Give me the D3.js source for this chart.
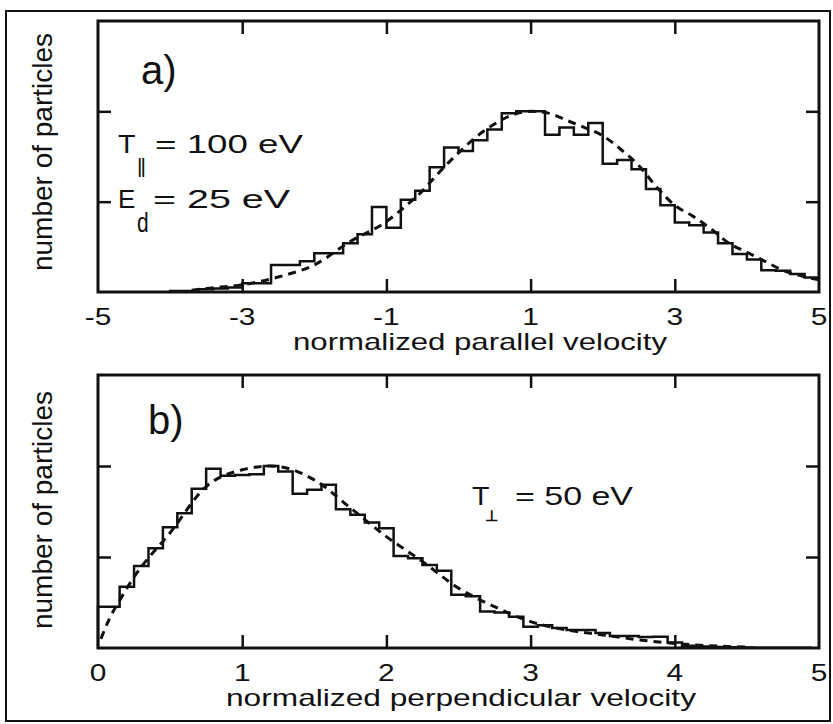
<!DOCTYPE html>
<html>
<head>
<meta charset="utf-8">
<script src="https://cdn.jsdelivr.net/npm/d3@7/dist/d3.min.js"></script>
<style>
  body { margin: 0; background: #fff; }
  svg { display: block; }
  text { font-family: "Liberation Sans", Arial, Helvetica, sans-serif; fill: #111; }
  text.sym { font-family: "DejaVu Sans", "Liberation Sans", sans-serif; stroke: #111; stroke-width: 0.7px; }
</style>
</head>
<body>
<svg id="fig" width="833" height="724"></svg>
<script>
// ---- panel a: parallel velocity distribution ----
const parallelBinStart = -4.0;
const parallelBinWidth = 0.2;
const parallelCounts = [
  0.005, 0.005, 0.015, 0.02, 0.025, 0.048, 0.048, 0.15, 0.15, 0.17,
  0.215, 0.215, 0.27, 0.32, 0.47, 0.355, 0.51, 0.56, 0.69, 0.80,
  0.78, 0.84, 0.90, 0.99, 1.0, 1.0, 0.87, 0.91, 0.87, 0.935,
  0.71, 0.73, 0.68, 0.57, 0.48, 0.385, 0.37, 0.33, 0.27, 0.21,
  0.18, 0.12, 0.117, 0.10, 0.08
];
const parallelFitV = [-3.7, -3.5, -3.0, -2.5, -2.0, -1.5, -1.0, -0.75, -0.5, -0.25, 0, 0.25, 0.5, 0.75, 1.0,
  1.25, 1.5, 1.75, 2.0, 2.25, 2.5, 2.75, 3.0, 3.25, 3.5, 3.75, 4.0, 4.25, 4.5, 4.75, 5.0];
const parallelFitF = [0.01, 0.02, 0.04, 0.083, 0.15, 0.28, 0.39, 0.47, 0.56, 0.67, 0.77, 0.86, 0.93, 0.98, 1.0,
  0.99, 0.95, 0.91, 0.865, 0.79, 0.70, 0.58, 0.48, 0.42, 0.35, 0.27, 0.22, 0.17, 0.12, 0.09, 0.067];
const parallelTicks = [-5, -3, -1, 1, 3, 5];
const parallelTickLabels = ["-5", "-3", "-1", "1", "3", "5"];

// ---- panel b: perpendicular velocity distribution ----
const perpBinStart = 0.0;   // bin centres
const perpBinWidth = 0.1;
const perpCounts = [
  0.227, 0.227, 0.337, 0.451, 0.548, 0.664, 0.741, 0.875, 0.985, 0.946,
  0.95, 0.955, 1.0, 0.97, 0.847, 0.869, 0.897, 0.763, 0.732, 0.689,
  0.658, 0.506, 0.493, 0.456, 0.425, 0.292, 0.285, 0.2, 0.195, 0.172,
  0.117, 0.125, 0.11, 0.099, 0.099, 0.083, 0.066, 0.066, 0.06, 0.062,
  0.03, 0.012, 0.008, 0.005, 0.004, 0.003, 0.002, 0.002, 0.001, 0.001
];
const perpFitV = [0.02, 0.07, 0.16, 0.25, 0.5, 0.75, 1.0, 1.2, 1.5, 1.75, 2.0, 2.25, 2.5, 2.75, 3.0,
  3.25, 3.5, 3.75, 4.0, 4.25, 4.5];
const perpFitF = [0.05, 0.145, 0.275, 0.39, 0.633, 0.887, 0.979, 1.0, 0.924, 0.77, 0.612, 0.475, 0.329, 0.227, 0.145,
  0.099, 0.072, 0.045, 0.025, 0.012, 0.005];
const perpTicks = [0, 1, 2, 3, 4, 5];
const perpTickLabels = ["0", "1", "2", "3", "4", "5"];

const countTicks = [0.5, 1.0];

const svg = d3.select("#fig");

// outer figure border
svg.append("rect")
  .attr("x", 6).attr("y", 11).attr("width", 824).attr("height", 710)
  .attr("fill", "none").attr("stroke", "#111").attr("stroke-width", 2);

function txt(g, str, x, y, opt) {
  const t = g.append("text")
    .attr("transform", `translate(${x},${y})` + (opt.sx ? ` scale(${opt.sx},1)` : "") + (opt.rot ? ` rotate(${opt.rot})` : ""))
    .attr("text-anchor", opt.anchor || "start")
    .style("font-size", opt.size + "px")
    .text(str);
  if (opt.len) t.attr("textLength", opt.len).attr("lengthAdjust", "spacingAndGlyphs");
  if (opt.ls) t.style("letter-spacing", opt.ls + "px");
  if (opt.cls) t.attr("class", opt.cls);
  return t;
}

function panel(box, xDomain, xTickVals, tickVals, tickLabels, edges, counts, fitV, fitF) {
  const x = d3.scaleLinear().domain(xDomain).range([box.x0, box.x1]);
  const y = d3.scaleLinear().domain([0, 1.5]).range([box.y1, box.y0]);
  const g = svg.append("g");

  // inward ticks on all four sides
  const tl = 13;
  const mk = (axis) => axis.tickSizeInner(-tl).tickSizeOuter(0).tickFormat("");
  g.append("g").attr("transform", `translate(0,${box.y1})`).call(mk(d3.axisBottom(x).tickValues(xTickVals)));
  g.append("g").attr("transform", `translate(0,${box.y0})`).call(mk(d3.axisTop(x).tickValues(xTickVals)));
  g.append("g").attr("transform", `translate(${box.x0},0)`).call(mk(d3.axisLeft(y).tickValues(countTicks)));
  g.append("g").attr("transform", `translate(${box.x1},0)`).call(mk(d3.axisRight(y).tickValues(countTicks)));
  g.selectAll(".domain").remove();
  g.selectAll(".tick line").attr("stroke", "#111").attr("stroke-width", 2.5);

  // histogram as a stepped outline
  const pts = [[edges[0][0], 0]];
  edges.forEach((e, i) => { pts.push([e[0], counts[i]]); pts.push([e[1], counts[i]]); });
  const line = d3.line().x(d => x(d[0])).y(d => y(d[1]));
  g.append("path").attr("d", line(pts))
    .attr("fill", "none").attr("stroke", "#111").attr("stroke-width", 2.5).attr("stroke-linejoin", "miter");

  // fitted distribution, dashed
  const fit = fitV.map((v, i) => [v, fitF[i]]);
  g.append("path").attr("d", line.curve(d3.curveMonotoneX)(fit))
    .attr("fill", "none").attr("stroke", "#111").attr("stroke-width", 3)
    .attr("stroke-dasharray", "8,6");

  // frame
  g.append("rect").attr("x", box.x0).attr("y", box.y0)
    .attr("width", box.x1 - box.x0).attr("height", box.y1 - box.y0)
    .attr("fill", "none").attr("stroke", "#111").attr("stroke-width", 3);

  // tick labels
  tickVals.forEach((v, i) => txt(g, tickLabels[i], x(v), box.y1 + 33, { size: 23, sx: 1.3, anchor: "middle" }));
  return { g, x, y };
}

const boxA = { x0: 98, x1: 819, y0: 21, y1: 292 };
const boxB = { x0: 98, x1: 819, y0: 375, y1: 648 };

const edgesA = parallelCounts.map((c, i) => {
  const lo = parallelBinStart + i * parallelBinWidth;
  return [lo, lo + parallelBinWidth];
});
const edgesB = perpCounts.map((c, i) => {
  const ctr = perpBinStart + i * perpBinWidth;
  return [Math.max(0, ctr - perpBinWidth / 2), Math.min(5, ctr + perpBinWidth / 2)];
});

const A = panel(boxA, [-5, 5], [-3, -1, 1, 3], parallelTicks, parallelTickLabels, edgesA, parallelCounts, parallelFitV, parallelFitF);
const B = panel(boxB, [0, 5], [1, 2, 3, 4], perpTicks, perpTickLabels, edgesB, perpCounts, perpFitV, perpFitF);

// axis titles
txt(svg, "normalized parallel velocity", 293, 350, { size: 24, len: 374 });
txt(svg, "normalized perpendicular velocity", 226, 706, { size: 24, len: 470 });
txt(svg, "number of particles", 52, 152, { size: 28, rot: -90, anchor: "middle" });
txt(svg, "number of particles", 52, 510, { size: 28, rot: -90, anchor: "middle" });

// panel annotations
txt(svg, "a)", 141, 84, { size: 40 });
txt(svg, "b)", 148, 434, { size: 40 });

txt(svg, "T", 118, 153, { size: 26, sx: 1.1 });
txt(svg, "||", 137, 173, { size: 21, ls: -2 });
txt(svg, "= 100 eV", 155, 153, { size: 26, len: 148 });

txt(svg, "E", 118, 208, { size: 26 });
txt(svg, "d", 137, 232, { size: 28, sx: 0.75 });
txt(svg, "= 25 eV", 153, 208, { size: 26, len: 137 });

txt(svg, "T", 472, 505, { size: 26, sx: 1.1 });
txt(svg, "\u22A5", 485, 521, { size: 15, cls: "sym" });
txt(svg, "= 50 eV", 515, 505, { size: 26, len: 118 });
</script>
</body>
</html>
